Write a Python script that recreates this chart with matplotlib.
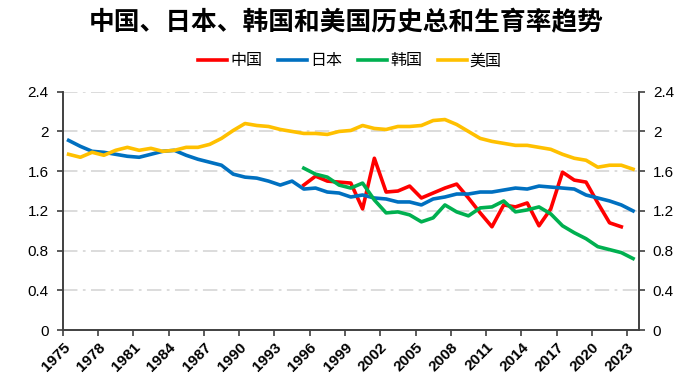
import matplotlib
matplotlib.use("Agg")
import matplotlib.pyplot as plt
import numpy as np

plt.rcParams["font.family"] = ["Liberation Sans", "Noto Sans CJK SC", "DejaVu Sans"]

YEARS = list(range(1975, 2024))
YEARS_KR_CN = list(range(1995, 2024))

usa = [1.77, 1.74, 1.79, 1.76, 1.81, 1.84, 1.81, 1.83, 1.80, 1.81,
       1.84, 1.84, 1.87, 1.93, 2.01, 2.08, 2.06, 2.05, 2.02, 2.00,
       1.98, 1.98, 1.97, 2.00, 2.01, 2.06, 2.03, 2.02, 2.05, 2.05,
       2.06, 2.11, 2.12, 2.07, 2.00, 1.93, 1.90, 1.88, 1.86, 1.86,
       1.84, 1.82, 1.77, 1.73, 1.71, 1.64, 1.66, 1.66, 1.62]
japan = [1.91, 1.85, 1.80, 1.79, 1.77, 1.75, 1.74, 1.77, 1.80, 1.81,
         1.76, 1.72, 1.69, 1.66, 1.57, 1.54, 1.53, 1.50, 1.46, 1.50,
         1.42, 1.43, 1.39, 1.38, 1.34, 1.36, 1.33, 1.32, 1.29, 1.29,
         1.26, 1.32, 1.34, 1.37, 1.37, 1.39, 1.39, 1.41, 1.43, 1.42,
         1.45, 1.44, 1.43, 1.42, 1.36, 1.33, 1.30, 1.26, 1.20]
korea = [1.63, 1.57, 1.54, 1.46, 1.43, 1.48, 1.31, 1.18, 1.19, 1.16,
         1.09, 1.13, 1.26, 1.19, 1.15, 1.23, 1.24, 1.30, 1.19, 1.21,
         1.24, 1.17, 1.05, 0.98, 0.92, 0.84, 0.81, 0.78, 0.72]
china = [1.46, 1.55, 1.50, 1.49, 1.48, 1.22, 1.73, 1.39, 1.40, 1.45,
         1.33, 1.38, 1.43, 1.47, 1.33, 1.18, 1.04, 1.26, 1.24, 1.28,
         1.05, 1.22, 1.59, 1.51, 1.49, 1.28, 1.08, 1.04]

SERIES = [
    ("中国", YEARS_KR_CN[:len(china)], china, "#FF0000"),
    ("日本", YEARS, japan, "#0070C0"),
    ("韩国", YEARS_KR_CN, korea, "#00B050"),
    ("美国", YEARS, usa, "#FFC000"),
]

Y_TICKS = [0, 0.4, 0.8, 1.2, 1.6, 2.0, 2.4]
Y_LABELS = ["0", "0.4", "0.8", "1.2", "1.6", "2", "2.4"]
X_TICKS = list(range(1975, 2024, 3))

fig = plt.figure(figsize=(6.93, 3.92), dpi=100)
ax = fig.add_axes([0.0905, 0.158, 0.8315, 0.608])

for label, yrs, vals, color in SERIES:
    ax.plot(np.array(yrs) + 0.5, vals, color=color, linewidth=2.6,
            label=label, solid_joinstyle="round")

ax.set_xlim(1975, 2024)
ax.set_ylim(0, 2.4)
for y in Y_TICKS[1:]:
    ax.axhline(y, color="#d9d9d9", linewidth=1.3, linestyle=(0, (8, 3, 1.5, 3)),
               zorder=0)

ax.set_yticks(Y_TICKS)
ax.set_yticklabels(Y_LABELS, fontsize=11)
ax.set_xticks(X_TICKS)
ax.set_xticklabels([str(x) for x in X_TICKS], rotation=45, ha="right",
                   rotation_mode="anchor", fontsize=11, fontweight="bold")
ax.tick_params(axis="both", direction="out", length=4, width=1.2, color="#404040")
ax.tick_params(axis="y", pad=6)
ax.tick_params(axis="x", pad=3)

ax2 = ax.twinx()
ax2.set_ylim(0, 2.4)
ax2.set_yticks(Y_TICKS)
ax2.set_yticklabels(Y_LABELS, fontsize=11)
ax2.tick_params(axis="y", direction="out", length=4, width=1.2, color="#404040", pad=6)

for a in (ax, ax2):
    a.spines["top"].set_visible(False)
    for s in ("left", "right", "bottom"):
        a.spines[s].set_color("#404040")
        a.spines[s].set_linewidth(1.2)

fig.text(0.5, 0.941, "中国、日本、韩国和美国历史总和生育率趋势",
         ha="center", va="center", fontsize=18.5, fontweight="bold")

handles, labels = ax.get_legend_handles_labels()
fig.legend(handles, labels, loc="center", bbox_to_anchor=(0.505, 0.845),
           ncol=4, frameon=False, fontsize=11.5, handlelength=1.8,
           handletextpad=0.2, columnspacing=1.0)

fig.savefig("out.png", dpi=100)
